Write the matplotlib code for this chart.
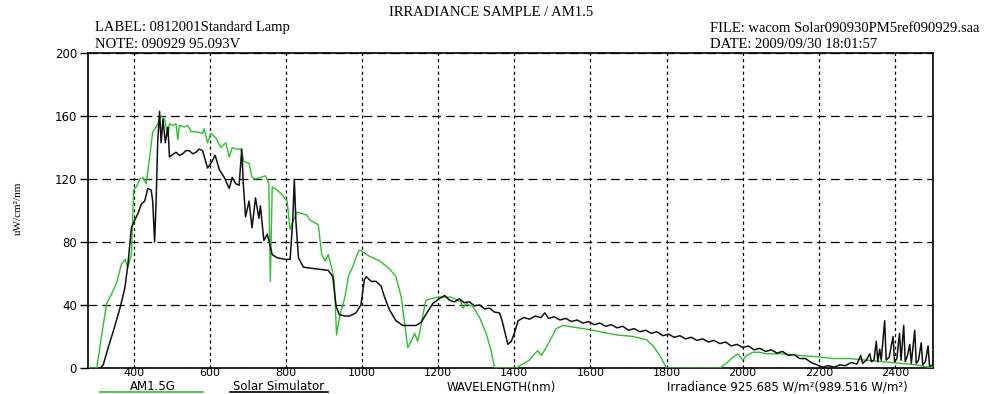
import matplotlib
matplotlib.use('Agg')
import matplotlib.pyplot as plt
from matplotlib.lines import Line2D

# AM1.5G reference spectrum (green)
wl_am15g = [280, 303, 316, 329, 342, 355, 368, 377, 385, 394, 400, 407, 416, 424, 433,
            442, 450, 459, 463, 472, 481, 490, 494, 503, 511, 516, 520, 533, 542, 551,
            564, 581, 585, 594, 603, 616, 629, 642, 651, 659, 668, 681, 690, 703, 711,
            720, 733, 746, 755, 759, 764, 777, 790, 803, 811, 820, 829, 842, 855, 863,
            885, 894, 903, 911, 920, 927, 933, 942, 955, 964, 975, 984, 993, 1000, 1019,
            1046, 1072, 1089, 1103, 1111, 1120, 1129, 1138, 1146, 1151, 1160, 1168, 1182, 1199, 1217,
            1234, 1252, 1260, 1265, 1274, 1291, 1309, 1326, 1339, 1348, 1405, 1418, 1440, 1453, 1462,
            1471, 1484, 1497, 1510, 1528, 1554, 1581, 1607, 1625, 1669, 1712, 1747, 1765, 1782, 1800,
            1940, 1957, 1975, 1988, 2000, 2010, 2027, 2045, 2062, 2080, 2106, 2150, 2200, 2237, 2281,
            2325, 2369, 2412, 2456, 2500]
irr_am15g = [0, 0, 21, 41, 47, 54, 66, 69, 64, 72, 113, 115, 120, 121, 117,
             134, 150, 153, 155, 160, 158, 147, 155, 154, 155, 145, 154, 153, 154, 150,
             150, 149, 152, 143, 149, 146, 140, 143, 134, 140, 139, 139, 131, 130, 121,
             120, 121, 122, 117, 55, 115, 113, 110, 106, 88, 94, 99, 98, 97, 94,
             91, 72, 68, 72, 64, 55, 21, 34, 45, 58, 64, 70, 75, 74, 71,
             68, 63, 58, 45, 30, 13, 17, 22, 17, 22, 34, 43, 44, 45, 45,
             45, 43, 42, 38, 41, 39, 32, 22, 11, 0, 0, 2, 5, 9, 11,
             8, 13, 19, 25, 27, 26, 25, 24, 23, 21, 20, 18, 14, 8, 0,
             0, 3, 7, 9, 5, 8, 10, 10, 9, 9, 9, 8, 7, 6, 6,
             5, 4, 3, 2, 0]

# solar simulator measurement (black)
wl_sim = [312, 320, 333, 346, 364, 377, 385, 394, 403, 411, 420, 429, 437, 446, 450,
          455, 459, 463, 468, 472, 477, 483, 490, 494, 511, 520, 529, 537, 546, 555,
          564, 572, 581, 594, 603, 614, 625, 638, 651, 659, 668, 677, 684, 688, 694,
          703, 711, 720, 729, 733, 742, 751, 755, 764, 777, 798, 811, 818, 822, 826,
          833, 846, 877, 911, 923, 932, 940, 954, 967, 984, 997, 1006, 1011, 1024, 1037,
          1050, 1059, 1072, 1089, 1107, 1125, 1142, 1155, 1168, 1186, 1203, 1217, 1230, 1243, 1255,
          1268, 1282, 1295, 1309, 1322, 1335, 1348, 1361, 1368, 1374, 1383, 1392, 1400, 1410, 1425,
          1440, 1455, 1470, 1480, 1490, 1505, 1520, 1535, 1550, 1565, 1580, 1595, 1610, 1625, 1640,
          1655, 1670, 1685, 1700, 1715, 1730, 1745, 1760, 1775, 1790, 1805, 1820, 1835, 1850, 1865,
          1880, 1895, 1910, 1925, 1940, 1955, 1970, 1985, 2000, 2015, 2030, 2045, 2060, 2075, 2090,
          2105, 2120, 2135, 2150, 2165, 2180, 2195, 2210, 2225, 2240, 2255, 2270, 2285, 2300, 2310,
          2315, 2325, 2334, 2338, 2345, 2351, 2355, 2360, 2364, 2373, 2377, 2385, 2395, 2399, 2405,
          2412, 2416, 2423, 2427, 2433, 2439, 2443, 2452, 2456, 2462, 2469, 2473, 2480, 2487, 2491,
          2500]
irr_sim = [0, 2, 13, 23, 38, 51, 66, 89, 94, 98, 104, 106, 114, 113, 106,
           80, 106, 143, 163, 143, 158, 143, 153, 134, 137, 135, 136, 138, 138, 136,
           137, 139, 138, 127, 130, 135, 126, 121, 114, 121, 117, 116, 139, 117, 96,
           106, 89, 108, 95, 103, 81, 85, 81, 72, 70, 69, 69, 94, 120, 94,
           70, 64, 63, 62, 58, 39, 34, 33, 33, 35, 40, 56, 58, 55, 55,
           52, 45, 37, 30, 27, 27, 27, 29, 34, 41, 44, 46, 43, 42, 44,
           41.5, 42, 39.5, 40, 37.5, 38, 35.5, 35, 30, 24, 15, 17, 22, 30, 32,
           31, 33, 32, 35, 31.5, 32.5, 30.5, 31.5, 29.5, 30.5, 28.5, 29.5, 27.5, 28.5, 26.5,
           27.5, 25.5, 26.5, 24, 25, 23, 24, 22, 23, 20.5, 21.5, 19.5, 20.5, 18.5, 19.5,
           17.5, 18.5, 16.5, 17.5, 15.5, 16.5, 14, 15, 13, 14, 11.5, 12.5, 10.5, 11.5, 9.5,
           10.5, 8, 8.5, 6, 6, 3.5, 2, 0.5, 1.5, 0.5, 2, 1.5, 3.5, 2.5, 8,
           3, 5, 9, 4, 5, 17, 4, 12, 5, 30, 5, 7, 20, 4, 6,
           22, 5, 27, 4, 8, 15, 3, 24, 3, 5, 16, 2, 4, 14, 1,
           2]

x_ticks = [400, 600, 800, 1000, 1200, 1400, 1600, 1800, 2000, 2200, 2400]
y_ticks = [0, 40, 80, 120, 160, 200]

GREEN = '#2ec02e'
W, H = 989, 394
SERIF = 'Liberation Serif'
SANS = 'DejaVu Sans'


def fx(px):
    return px / W


def fy(py):
    return 1 - py / H


fig = plt.figure(figsize=(W / 100, H / 100), dpi=100)
ax = fig.add_axes([fx(88), fy(368), (933 - 88) / W, (368 - 53) / H])

ax.plot(wl_am15g, irr_am15g, color=GREEN, lw=1.0, zorder=3)
ax.plot(wl_sim, irr_sim, color='#111111', lw=1.1, zorder=4)

ax.set_xlim(280, 2500)
ax.set_ylim(0, 200)
ax.set_xticks(x_ticks)
ax.set_yticks(y_ticks)
ax.set_axisbelow(True)
ax.xaxis.grid(True, color='black', lw=0.9, linestyle=(0, (2.5, 2.5)))
ax.yaxis.grid(True, color='black', lw=0.9, linestyle=(0, (7, 4)))
ax.tick_params(axis='x', length=0, pad=0, labelsize=8)
ax.tick_params(axis='y', length=6, width=1, direction='out', pad=2, labelsize=8.5)
for lab in ax.get_xticklabels() + ax.get_yticklabels():
    lab.set_family(SANS)
for sp in ax.spines.values():
    sp.set_linewidth(1.2)

# header texts
fig.text(fx(491), fy(13), 'IRRADIANCE SAMPLE / AM1.5', family=SERIF, fontsize=10.5,
         ha='center', va='center')
fig.text(fx(95), fy(28), 'LABEL: 0812001Standard Lamp', family=SERIF, fontsize=10.5,
         ha='left', va='center')
fig.text(fx(95), fy(44), 'NOTE: 090929 95.093V', family=SERIF, fontsize=10.5,
         ha='left', va='center')
fig.text(fx(710), fy(28), 'FILE: wacom Solar090930PM5ref090929.saa', family=SERIF, fontsize=10.5,
         ha='left', va='center')
fig.text(fx(710), fy(44), 'DATE: 2009/09/30 18:01:57', family=SERIF, fontsize=10.5,
         ha='left', va='center')
fig.text(fx(18), fy(208), 'uW/cm²/nm', family=SERIF, fontsize=8, rotation=90,
         ha='center', va='center')

# bottom legend / captions
cap_y = fy(387)
fig.text(fx(153), cap_y, 'AM1.5G', family=SANS, fontsize=8.5, ha='center', va='center')
fig.add_artist(Line2D([fx(100), fx(203)], [fy(391.5), fy(391.5)], color=GREEN, lw=1.2))
fig.text(fx(279), cap_y, 'Solar Simulator', family=SANS, fontsize=8.5, ha='center', va='center')
fig.add_artist(Line2D([fx(230), fx(328)], [fy(391.5), fy(391.5)], color='black', lw=1.2))
fig.text(fx(447), cap_y, 'WAVELENGTH(nm)', family=SANS, fontsize=8.5, ha='left', va='center')
fig.text(fx(667), cap_y, 'Irradiance 925.685 W/m²(989.516 W/m²)', family=SANS, fontsize=8.5,
         ha='left', va='center')

fig.savefig('out.png', dpi=100)
